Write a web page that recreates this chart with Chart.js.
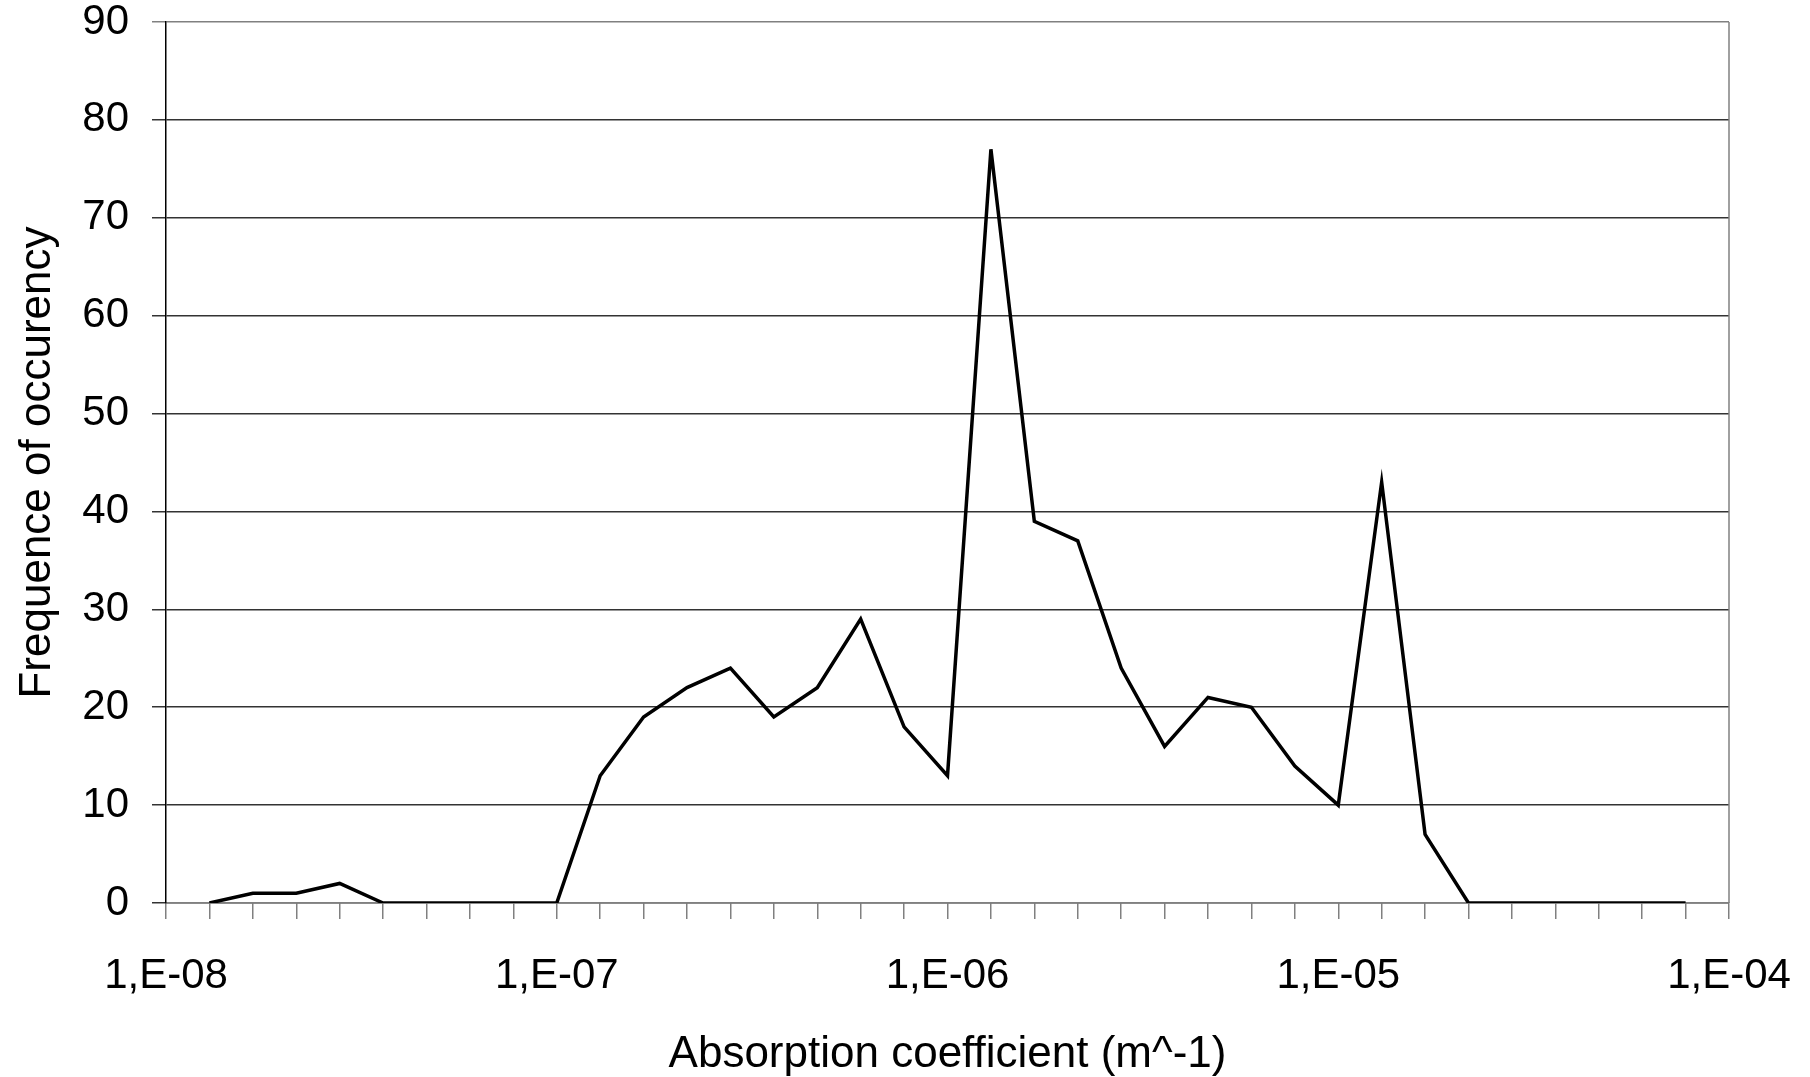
<!DOCTYPE html>
<html>
<head>
<meta charset="utf-8">
<script src="https://cdn.jsdelivr.net/npm/chart.js@4/dist/chart.umd.min.js"></script>
<style>
    html, body { margin: 0; padding: 0; background: #fff; }
    #wrap { width: 1810px; height: 1077px; }
</style>
</head>
<body>
<div id="wrap"><canvas id="graph"></canvas></div>
<script>
// Категории (классы коэффициента поглощения), подпись у каждой 9-й
const categories = ['1,E-08', '', '', '', '', '', '', '', '', '1,E-07',
    '', '', '', '', '', '', '', '', '1,E-06',
    '', '', '', '', '', '', '', '', '1,E-05',
    '', '', '', '', '', '', '', '', '1,E-04'];

// Частота появления
const frequency = [null, 0, 1, 1, 2, 0, 0, 0, 0, 0,
    13, 19, 22, 24, 19, 22, 29, 18, 13, 77,
    39, 37, 24, 16, 21, 20, 14, 10, 43, 7,
    0, 0, 0, 0, 0, 0, null];

const yTicks = { min: 0, max: 90, step: 10 };

const family = "'Liberation Sans', Arial, sans-serif";
const tickFont = { family: family, size: 42, lineHeight: 1 };
const titleFont = { family: family, size: 44, lineHeight: 1 };

// Рамка справа от области построения
const rightBorder = {
    id: 'rightBorder',
    afterDraw(chart) {
        const a = chart.chartArea;
        const ctx = chart.ctx;
        ctx.save();
        ctx.strokeStyle = '#808080';
        ctx.lineWidth = 1.5;
        ctx.beginPath();
        ctx.moveTo(a.right, a.top);
        ctx.lineTo(a.right, a.bottom);
        ctx.stroke();
        ctx.restore();
    }
};

var ctx = document.getElementById('graph').getContext('2d');
var chart = new Chart(ctx, {
    type: 'line',
    data: {
        labels: categories,
        datasets: [{
            data: frequency,
            borderColor: '#000',
            borderWidth: 3.5,
            pointRadius: 0,
            fill: false,
            tension: 0
        }]
    },
    options: {
        responsive: true,
        maintainAspectRatio: false,
        animation: false,
        layout: { padding: { top: 22, right: 81, left: 0, bottom: 0 } },
        plugins: {
            legend: { display: false },
            tooltip: { enabled: false }
        },
        scales: {
            x: {
                offset: false,
                afterFit: function (s) {
                    s.height = 174;
                    s.paddingLeft = 0;
                    s.paddingRight = 0;
                },
                grid: {
                    drawOnChartArea: false,
                    drawTicks: true,
                    tickLength: 16,
                    color: '#808080',
                    lineWidth: 1.5
                },
                border: { color: '#808080', width: 1.5 },
                ticks: {
                    autoSkip: false,
                    maxRotation: 0,
                    color: '#000',
                    font: tickFont,
                    padding: 36
                },
                title: {
                    display: true,
                    text: 'Absorption coefficient (m^-1)',
                    color: '#000',
                    font: titleFont,
                    padding: { top: 1, bottom: 0 }
                }
            },
            y: {
                min: yTicks.min,
                max: yTicks.max,
                afterFit: function (s) {
                    s.width = 166;
                    s.paddingTop = 0;
                    s.paddingBottom = 0;
                },
                grid: {
                    tickLength: 14,
                    color: function (c) { return c.tick && c.tick.value === yTicks.max ? '#808080' : '#333'; },
                    lineWidth: 1.5
                },
                border: { color: '#000', width: 1.5 },
                ticks: {
                    stepSize: yTicks.step,
                    color: '#000',
                    font: tickFont,
                    padding: 23
                },
                title: {
                    display: true,
                    text: 'Frequence of occurency',
                    color: '#000',
                    font: titleFont,
                    padding: { top: 16, bottom: 0 }
                }
            }
        }
    },
    plugins: [rightBorder]
});
</script>
</body>
</html>
